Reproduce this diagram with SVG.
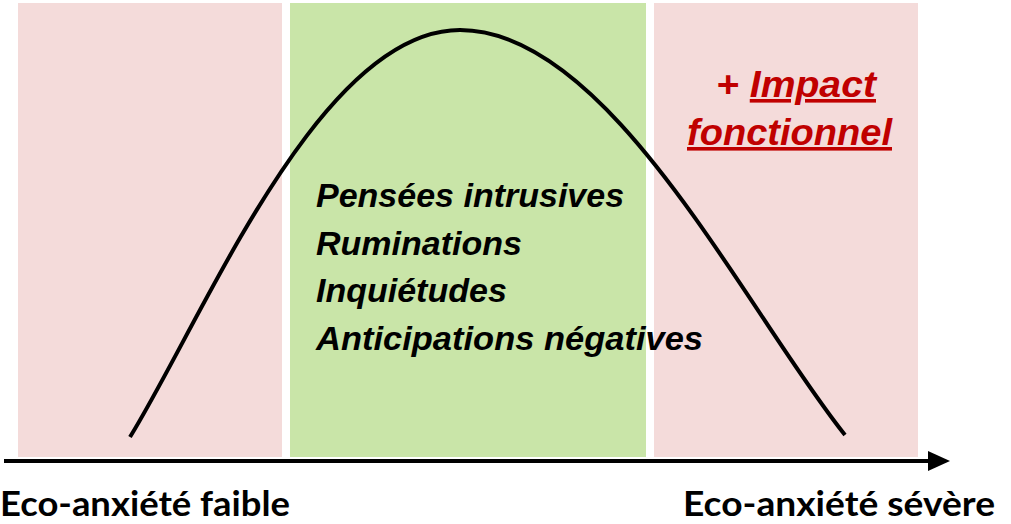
<svg xmlns="http://www.w3.org/2000/svg" width="1011" height="524" viewBox="0 0 1011 524">
<style>
.pink{fill:#f4dbda}
.green{fill:#c9e5a8}
.item{font-family:"Liberation Sans",Arial,sans-serif;font-weight:bold;font-style:italic;font-size:34px;fill:#000}
.red{font-family:"Liberation Sans",Arial,sans-serif;font-weight:bold;font-style:italic;font-size:36px;fill:#c00000}
.axis{font-family:Lato,"Liberation Sans",Arial,sans-serif;font-weight:bold;font-size:35px;fill:#000}
</style>
<rect width="1011" height="524" fill="#fff"/>
<g id="zone-faible"><rect class="pink" x="18" y="3" width="264" height="454"/></g>
<g id="zone-moderee"><rect class="green" x="290" y="3" width="356" height="454"/></g>
<g id="zone-severe"><rect class="pink" x="654" y="3" width="264" height="454"/></g>
<g id="connectors">
<path d="M130,437 C205,315 320,30 460,30 C610,30 745,310 845,435" fill="none" stroke="#000" stroke-width="4"/>
<line x1="4" y1="461" x2="935" y2="461" stroke="#000" stroke-width="4"/>
<path d="M928,451 L950,461 L928,471 Z" fill="#000"/>
</g>
<g id="symptomes">
<text class="item" x="316" y="207">Pensées intrusives</text>
<text class="item" x="316" y="255">Ruminations</text>
<text class="item" x="316" y="302">Inquiétudes</text>
<text class="item" x="316" y="350" textLength="387" lengthAdjust="spacingAndGlyphs">Anticipations négatives</text>
</g>
<g id="impact">
<text class="red" x="716" y="97" textLength="160" lengthAdjust="spacingAndGlyphs">+ <tspan text-decoration="underline">Impact</tspan></text>
<text class="red" x="687" y="145" text-decoration="underline" textLength="205" lengthAdjust="spacingAndGlyphs">fonctionnel</text>
</g>
<g id="labels">
<text class="axis" x="0" y="516" textLength="290" lengthAdjust="spacingAndGlyphs">Eco-anxiété faible</text>
<text class="axis" x="683" y="516" textLength="312" lengthAdjust="spacingAndGlyphs">Eco-anxiété sévère</text>
</g>
</svg>
